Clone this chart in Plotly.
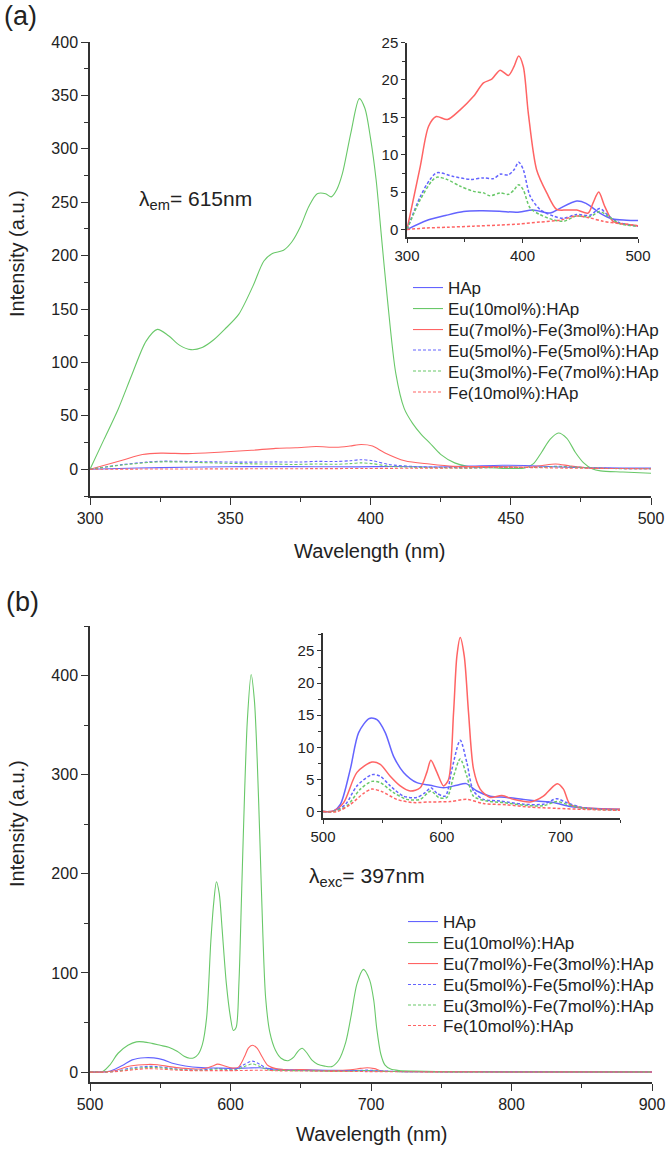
import plotly.graph_objects as go

W, H = 666, 1150

NAMES = ["HAp", "Eu(10mol%):HAp", "Eu(7mol%)-Fe(3mol%):HAp",
         "Eu(5mol%)-Fe(5mol%):HAp", "Eu(3mol%)-Fe(7mol%):HAp", "Fe(10mol%):HAp"]
COLORS = ["rgb(100,100,255)", "rgb(105,200,105)", "rgb(255,100,100)",
          "rgb(100,100,255)", "rgb(105,200,105)", "rgb(255,100,100)"]
DASHES = ["solid", "solid", "solid", "3px,2px", "3px,2px", "3px,2px"]

# ---------------- Panel (a): excitation, lambda_em = 615 nm ----------------
a_eu10_wl = [300, 305, 310, 315, 320, 324, 328, 332, 336, 340, 344, 348, 353, 358, 362, 365, 369,
             372, 375, 378, 381, 384, 386, 388, 390, 393, 396, 398, 400, 402, 404, 406, 409, 412,
             415, 418, 421, 425, 430, 435, 440, 445, 450, 455, 458, 461, 464, 467, 470, 473, 476,
             479, 482, 490, 500]
a_eu10 = [0, 28, 56, 89, 120, 131, 125, 116, 112, 114, 121, 131, 145, 171, 195, 202, 205,
          213, 227, 246, 258, 258, 255, 262, 277, 315, 347, 338, 310, 271, 215, 160, 90, 57,
          43, 33, 25, 14, 6, 2.5, 1.8, 1.2, 0.8, 1.2, 5, 16, 28, 34, 29, 16, 6,
          0.5, -1.5, -2.5, -3.7]

a_hap_wl = [300, 317, 334, 349, 363, 380, 395, 409, 424, 432, 447, 455, 467, 478, 490, 500]
a_hap = [0, 1.2, 1.9, 2.4, 2.5, 2.45, 2.3, 2.6, 2.2, 2.8, 3.8, 3.5, 2.2, 1.4, 1.25, 1.2]

a_eu7fe3_wl = [300, 311.5, 318.7, 325.3, 335, 346, 357.6, 366.2, 373.4, 380.6, 387.8, 392.7, 396.7,
               400.7, 405, 412.2, 421, 429.5, 438, 447, 456.8, 461.2, 466, 471.2, 478.4, 490, 500]
a_eu7fe3 = [0, 8.45, 13.8, 15.1, 14.7, 16, 17.8, 19.6, 20.1, 21.3, 20.6, 21.8, 23.2,
            21.8, 15.6, 8, 4.9, 2.7, 2.6, 2.6, 2.2, 3.6, 5, 3.1, 1.1, 0.7, 0.5]

a_eu5fe5_wl = [300, 311.5, 320, 326, 340, 355, 366, 375, 380.6, 387.8, 392.7, 396.7, 400.7, 406.5,
               415, 426.6, 435.3, 446.8, 458.3, 466.9, 474, 484, 500]
a_eu5fe5 = [0, 4.4, 6.7, 7.6, 7.1, 6.7, 6.9, 6.8, 7.4, 7.3, 8.0, 9.0, 8.0, 4.5,
            2.7, 1.8, 1.5, 2.0, 1.9, 2.8, 1.9, 0.9, 0.45]

a_eu3fe7_wl = [300, 311.5, 321.6, 326, 334.5, 346, 357.6, 366.2, 372, 380.6, 387.8, 392.7, 396.7,
               400.7, 406.5, 415, 426.6, 435.3, 446.8, 458.3, 466.9, 474, 484, 500]
a_eu3fe7 = [0, 4.0, 6.5, 7.0, 6.7, 5.8, 5.1, 4.9, 4.5, 4.9, 4.7, 5.3, 6.0,
            5.3, 2.9, 2.0, 1.3, 1.1, 1.8, 1.7, 2.4, 1.8, 0.8, 0.45]

a_fe10_wl = [300, 317, 334.5, 357.6, 380.6, 398, 415, 432.4, 446.8, 458.3, 469.8, 484, 500]
a_fe10 = [0, 0.2, 0.3, 0.45, 0.6, 0.75, 1.0, 1.25, 1.8, 1.55, 1.1, 0.8, 0.5]

# ---------------- Panel (b): emission, lambda_exc = 397 nm ----------------
b_eu10_wl = [500, 505, 509, 514, 520, 527, 533, 538, 544, 550, 556, 562, 567, 571, 574, 577, 580,
             583, 586, 588, 590, 592, 594, 597, 600, 602, 604, 606, 608, 610, 612, 614.7, 617,
             619, 621, 623, 625, 628, 632, 636, 641, 645, 648, 651, 654, 658, 662, 667, 672,
             677, 682, 686, 690, 694.6, 699, 702, 704, 707, 710, 714, 720, 730, 760, 800, 850, 900]
b_eu10 = [0, 0, 0.5, 7, 19, 27, 30.5, 30.5, 29, 27, 25, 21, 16, 14, 14.5, 18, 28,
          55, 132, 170, 192, 180, 145, 90, 55, 42, 45, 90, 185, 280, 355, 401, 375,
          315, 230, 140, 75, 40, 22, 14, 11.5, 15, 21, 24, 20, 12, 8, 6, 5.5,
          12, 30, 58, 89, 103.6, 93, 72, 45, 18, 7, 3, 1.5, 1, 0.5, 0.5, 0.3, 0.2]

b_hap_wl = [500, 509, 514.6, 523, 530, 539, 545.4, 552.4, 559.4, 567.8, 579, 590.2, 601.5, 612.7,
            620.5, 629.5, 640.7, 654.7, 668.7, 680, 694, 708, 724.8, 750, 800, 850, 900]
b_hap = [0, 0.1, 1.1, 6.6, 12.3, 14.5, 14.3, 12.3, 8.6, 6.1, 4.5, 4.1, 3.7, 4.1,
         4.35, 3.2, 2.4, 2.2, 1.9, 1.65, 1.4, 0.8, 0.5, 0.35, 0.25, 0.2, 0.15]

b_eu7fe3_wl = [500, 509, 517.4, 528.6, 541.2, 548.2, 556.6, 565, 573.4, 581.8, 587.4, 590.8, 595.9,
               601.5, 605.7, 609.9, 612.7, 615.5, 618.9, 622.5, 626.7, 632.3, 640.7, 650.6, 660.4,
               674.4, 685.5, 692.5, 697.3, 702.4, 708, 719.2, 750, 800, 850, 900]
b_eu7fe3 = [0, 0.1, 1.4, 6.1, 7.7, 7.35, 5.5, 4.0, 3.2, 3.7, 6.1, 8.0, 6.1,
            4.0, 5.0, 15.4, 24.2, 27.1, 24.2, 15.4, 6.6, 3.5, 2.2, 2.5, 1.9,
            1.5, 2.4, 3.7, 4.35, 3.5, 1.1, 0.6, 0.35, 0.25, 0.2, 0.15]

b_eu5fe5_wl = [500, 509, 518.8, 528.6, 541.2, 548.2, 556.6, 567.8, 579, 586, 590.8, 595.9, 602.9,
               608.5, 615.5, 621.1, 626.7, 635.1, 649.1, 668.7, 685.5, 696.7, 705, 719.2, 750,
               800, 850, 900]
b_eu5fe5 = [0, 0.05, 1.1, 4.0, 5.75, 5.5, 4.0, 2.4, 2.2, 2.95, 3.7, 2.85, 2.4,
            6.6, 11.1, 7.6, 3.2, 1.9, 1.65, 1.15, 1.15, 2.0, 1.4, 0.6, 0.25,
            0.2, 0.15, 0.1]

b_eu3fe7_wl = [500, 509, 520.2, 531.4, 541.2, 548.2, 559.4, 570.6, 581.8, 590.8, 597.3, 604.3,
               609.9, 615.5, 621.1, 626.7, 637.9, 651.9, 668.7, 685.5, 696.7, 705, 719.2, 750,
               800, 850, 900]
b_eu3fe7 = [0, 0, 0.9, 3.5, 4.7, 4.5, 2.95, 1.9, 1.9, 3.2, 2.2, 2.2,
            5.5, 8.2, 5.5, 2.4, 1.65, 1.4, 1.0, 0.9, 1.55, 1.15, 0.5, 0.2,
            0.15, 0.1, 0.1]

b_fe10_wl = [500, 511.8, 523, 534.2, 541.2, 549.6, 562.2, 576.2, 590.2, 607, 621.1, 635.1, 654.7,
             674.4, 696.7, 719.2, 750, 800, 850, 900]
b_fe10 = [0, 0, 1.1, 2.85, 3.5, 3.1, 1.9, 1.4, 1.5, 1.55, 1.9, 1.25, 1.05,
          0.7, 0.5, 0.35, 0.2, 0.15, 0.1, 0.1]

A_SERIES = [(a_hap_wl, a_hap), (a_eu10_wl, a_eu10), (a_eu7fe3_wl, a_eu7fe3),
            (a_eu5fe5_wl, a_eu5fe5), (a_eu3fe7_wl, a_eu3fe7), (a_fe10_wl, a_fe10)]
B_SERIES = [(b_hap_wl, b_hap), (b_eu10_wl, b_eu10), (b_eu7fe3_wl, b_eu7fe3),
            (b_eu5fe5_wl, b_eu5fe5), (b_eu3fe7_wl, b_eu3fe7), (b_fe10_wl, b_fe10)]


def px(x):
    return x / W


def py(y):
    return 1 - y / H


FONT = "Liberation Sans, Arial, sans-serif"
TXT = "#222"

LEG_ROWS_A = [288, 309, 330, 350.5, 371.5, 392.5]
LEG_ROWS_B = [922, 943, 964, 985, 1005.5, 1026]
LEG_TEXT_X_A = 449
LEG_TEXT_X_B = 444

fig = go.Figure()
legends = {}

order = [1, 0, 2, 3, 4, 5]
for i in order:
    wl, v = A_SERIES[i]
    lname = "legend" if i == 0 else f"legend{i + 1}"
    legends[lname] = (LEG_TEXT_X_A, LEG_ROWS_A[i])
    fig.add_trace(go.Scatter(x=wl, y=v, mode="lines", name=NAMES[i], legend=lname,
                             line=dict(color=COLORS[i], width=1.1, dash=DASHES[i],
                                       shape="spline", smoothing=0.8),
                             xaxis="x", yaxis="y"))
for i in [0, 2, 3, 4, 5]:
    wl, v = A_SERIES[i]
    fig.add_trace(go.Scatter(x=wl, y=v, mode="lines", showlegend=False,
                             line=dict(color=COLORS[i], width=1.5, dash=DASHES[i],
                                       shape="spline", smoothing=0.8),
                             xaxis="x2", yaxis="y2"))
for i in order:
    wl, v = B_SERIES[i]
    lname = f"legend{i + 7}"
    legends[lname] = (LEG_TEXT_X_B, LEG_ROWS_B[i])
    fig.add_trace(go.Scatter(x=wl, y=v, mode="lines", name=NAMES[i], legend=lname,
                             line=dict(color=COLORS[i], width=1.1, dash=DASHES[i],
                                       shape="spline", smoothing=0.8),
                             xaxis="x3", yaxis="y3"))
for i in [0, 2, 3, 4, 5]:
    wl, v = B_SERIES[i]
    fig.add_trace(go.Scatter(x=wl, y=v, mode="lines", showlegend=False,
                             line=dict(color=COLORS[i], width=1.5, dash=DASHES[i],
                                       shape="spline", smoothing=0.8),
                             xaxis="x4", yaxis="y4"))


def ax(domain, rng, dtick, mdtick, tlen, mlen, fsize, anchor):
    return dict(domain=domain, range=rng, dtick=dtick, tick0=0, showline=True, linecolor="#333",
                linewidth=1.5, ticks="outside", ticklen=tlen, tickwidth=1.3, tickcolor="#333",
                minor=dict(dtick=mdtick, ticks="outside", ticklen=mlen, tickwidth=1.2,
                           tickcolor="#333"),
                showgrid=False, zeroline=False, anchor=anchor, automargin=False,
                tickfont=dict(family=FONT, size=fsize, color=TXT))


layout = dict(
    width=W, height=H, autosize=False,
    margin=dict(l=0, r=0, t=0, b=0, pad=0, autoexpand=False),
    paper_bgcolor="white", plot_bgcolor="rgba(0,0,0,0)",
    xaxis=ax([px(90), px(651)], [300, 500], 50, 25, 7, 4, 16, "y"),
    yaxis=ax([py(496), py(42)], [-25, 400], 50, 25, 7, 4, 16, "x"),
    xaxis2=ax([px(407), px(638)], [300, 500], 100, 50, 4, 3, 15, "y2"),
    yaxis2=ax([py(237), py(42.5)], [-1, 25], 5, 2.5, 4, 3, 15, "x2"),
    xaxis3=ax([px(90), px(652)], [500, 900], 100, 50, 7, 4, 16, "y3"),
    yaxis3=ax([py(1082), py(626)], [-10, 450], 100, 50, 7, 4, 16, "x3"),
    xaxis4=ax([px(323), px(620)], [500, 750], 100, 50, 4, 3, 15, "y4"),
    yaxis4=ax([py(818), py(633)], [-1, 27.8], 5, 2.5, 4, 3, 15, "x4"),
    showlegend=True,
)
for lname, (lx, ly) in legends.items():
    layout[lname] = dict(x=px(lx - 41), y=py(ly), xanchor="left", yanchor="middle",
                         font=dict(family=FONT, size=17, color=TXT),
                         bgcolor="rgba(0,0,0,0)", borderwidth=0, itemwidth=30)
fig.update_layout(**layout)

ann = [
    dict(text="(a)", x=px(2), y=py(16), xanchor="left", yanchor="middle", size=27),
    dict(text="(b)", x=px(4), y=py(602), xanchor="left", yanchor="middle", size=27),
    dict(text="λ<sub>em</sub>= 615nm", x=px(137), y=py(200), xanchor="left", yanchor="middle", size=21),
    dict(text="λ<sub>exc</sub>= 397nm", x=px(307), y=py(877), xanchor="left", yanchor="middle", size=21),
    dict(text="Wavelength (nm)", x=px(370), y=py(551), xanchor="center", yanchor="middle", size=20),
    dict(text="Wavelength (nm)", x=px(372), y=py(1134), xanchor="center", yanchor="middle", size=20),
]
for a in ann:
    fig.add_annotation(text=a["text"], x=a["x"], y=a["y"], xref="paper", yref="paper",
                       xanchor=a["xanchor"], yanchor=a["yanchor"], showarrow=False,
                       font=dict(family=FONT, size=a["size"], color=TXT))
for yy in (254, 824):
    fig.add_annotation(text="Intensity (a.u.)", x=px(17), y=py(yy), xref="paper", yref="paper",
                       xanchor="center", yanchor="middle", textangle=-90, showarrow=False,
                       font=dict(family=FONT, size=20, color=TXT))

# remove the browser's default 8px page margin so the figure sits at the window origin
fig.write_html("out.html", config={"displayModeBar": False},
               post_script="document.body.style.margin='0';document.body.style.overflow='hidden';")
